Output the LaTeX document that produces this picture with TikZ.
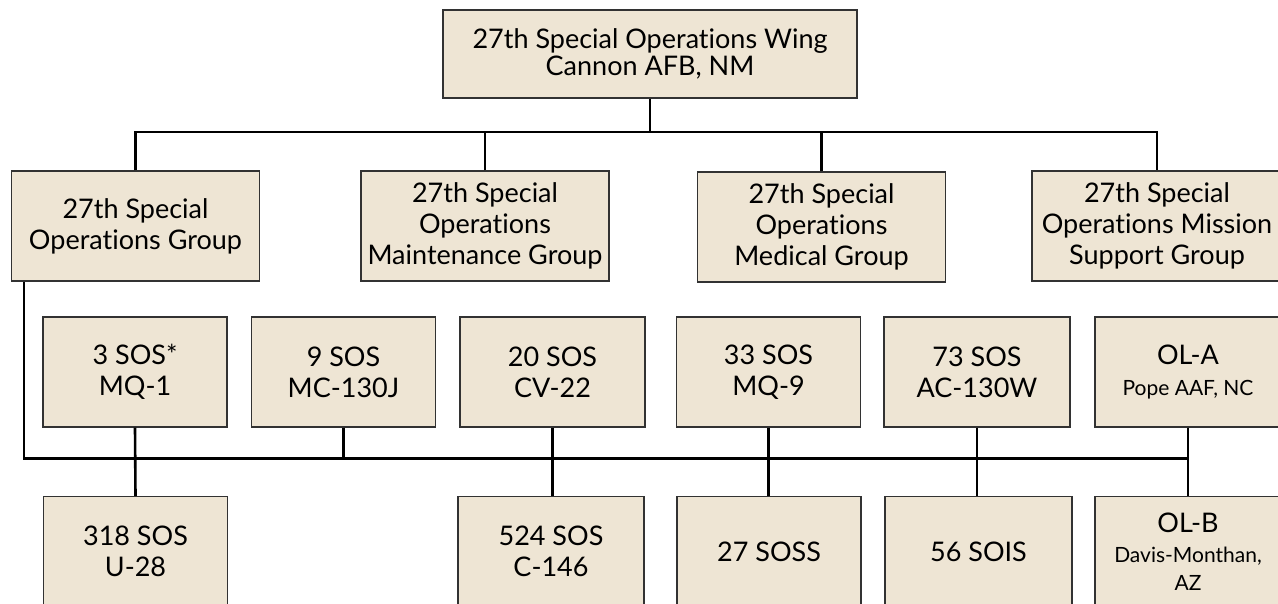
\documentclass[tikz,border=0pt]{standalone}
\usepackage{fontspec}
\setmainfont[Ligatures=NoCommon]{Lato}
\definecolor{boxfill}{RGB}{238,229,212}
\definecolor{boxline}{RGB}{50,50,50}
\begin{document}
\begin{tikzpicture}[x=1pt,y=-1pt,
  unit/.style={draw=boxline, line width=1.3pt, fill=boxfill, inner sep=0pt, align=center,
    minimum height=110pt, font=\fontsize{27}{31}\selectfont},
  grp/.style={unit, minimum width=248pt},
  sq/.style={unit, minimum width=184pt},
  conn/.style={line width=2.6pt, black}]
\useasboundingbox (0,0) rectangle (1278,603);
\fill[white] (0,0) rectangle (1278,603);
\begin{scope}
\clip (0,0) rectangle (1278,603);
% coordinates of the two buses
\coordinate (busA) at (0,132);
\coordinate (busB) at (24,458.5);
% nodes
\node[unit, minimum width=414pt, minimum height=88pt, font=\fontsize{27}{27}\selectfont] (wing) at (650,54) {27th Special Operations Wing\\Cannon AFB, NM};
\node[grp] (g1) at (135.5,226) {27th Special\\Operations Group};
\node[grp] (g2) at (485,226) {27th Special\\Operations\\Maintenance Group};
\node[grp] (g3) at (821.5,227) {27th Special\\Operations\\Medical Group};
\node[grp, minimum width=250pt] (g4) at (1157,226) {27th Special\\Operations Mission\\Support Group};
\node[sq] (s3) at (135,372) {3 SOS*\\MQ-1};
\node[sq] (s9) at (343.5,372) {9 SOS\\MC-130J};
\node[sq, minimum width=185pt] (s20) at (552.5,372) {20 SOS\\CV-22};
\node[sq] (s33) at (768.5,372) {33 SOS\\MQ-9};
\node[sq, minimum width=186pt] (s73) at (977,372) {73 SOS\\AC-130W};
\node[sq, minimum width=186pt] (ola) at (1188,372) {OL-A\\{\fontsize{21}{27}\selectfont Pope AAF, NC}};
\node[sq] (s318) at (135.5,551.5) {318 SOS\\U-28};
\node[sq, minimum width=186pt] (s524) at (551,551.5) {524 SOS\\C-146};
\node[sq] (s27) at (769,551.5) {27 SOSS};
\node[sq, minimum width=187pt] (s56) at (978.5,551.5) {56 SOIS};
\node[sq, minimum width=186pt] (olb) at (1188,551.5) {OL-B\\[-1pt]{\fontsize{21}{27}\selectfont Davis-Monthan,}\\[-3pt]{\fontsize{21}{27}\selectfont AZ}};
\end{scope}
% upper bus
\draw[conn] (wing.south) -- (wing.south |- busA);
\draw[conn] (g1.north) -- (g1.north |- busA) -- (g4.north |- busA) -- (g4.north);
\draw[conn] (g2.north) -- (g2.north |- busA);
\draw[conn] (g3.north) -- (g3.north |- busA);
% lower bus
\draw[conn] (g1.south -| busB) -- (busB) -- (busB -| ola.south);
\draw[conn] (ola.south) -- (olb.north);
\draw[conn] (s3.south) -- (s318.north);
\draw[conn] (s9.south) -- (s9.south |- busB);
\draw[conn] (s20.south) -- (s20.south |- s524.north);
\draw[conn] (s33.south) -- (s33.south |- s27.north);
\draw[conn] (s73.south) -- (s73.south |- s56.north);
\end{tikzpicture}
\end{document}
